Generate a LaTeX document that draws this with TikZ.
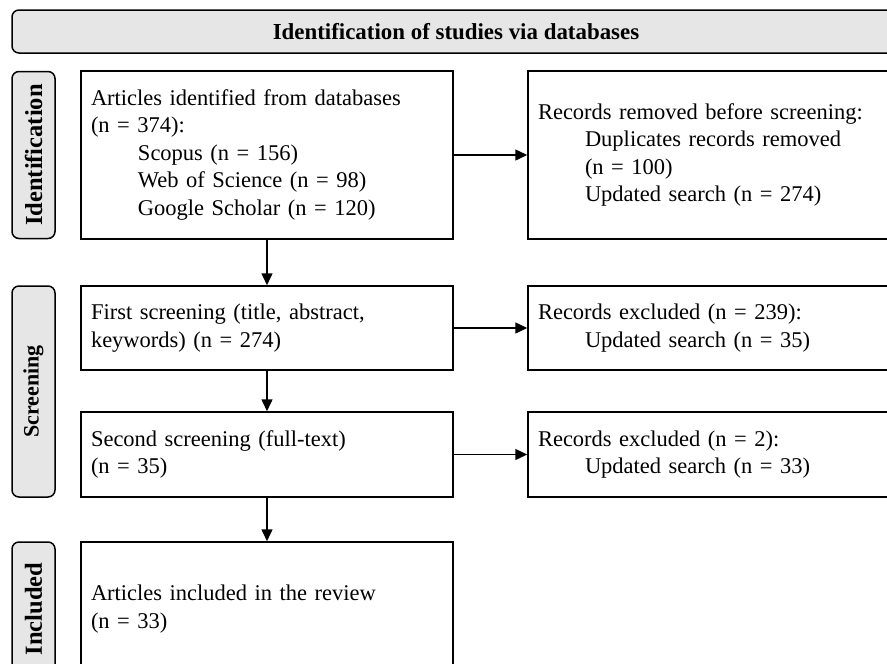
\documentclass[tikz,border=0pt]{standalone}
\usepackage{fontspec}
\setmainfont{Liberation Serif}
\usetikzlibrary{arrows.meta}
\definecolor{lbl}{HTML}{E6E6E6}
\tikzset{
  every node/.style={font=\fontsize{22.5}{27.5}\selectfont},
  box/.style={draw, line width=1.5pt, minimum width=372pt, text width=352pt, inner xsep=10pt, align=left, anchor=center},
  side/.style={draw, line width=1.5pt, fill=lbl, rounded corners=7pt, rotate=90, minimum height=43pt, inner sep=0pt},
  head/.style={draw, line width=1.5pt, fill=lbl, rounded corners=7pt, minimum width=888pt, minimum height=43pt, inner sep=0pt, font=\fontsize{22.9}{27.5}\selectfont\bfseries},
  arr/.style={line width=1.5pt, -{Triangle[length=12pt,width=11pt]}}
}
\newcommand{\tab}{\hspace*{47pt}}
\begin{document}
\begin{tikzpicture}[x=1pt,y=-1pt]
\useasboundingbox (0,0) rectangle (887,664);
\node[head] (hd) at (456,31.5) {Identification of studies via databases};
\node[side, minimum width=167pt, font=\fontsize{24.5}{27.5}\selectfont\bfseries] (s1) at (33.5,155) {Identification};
\node[side, minimum width=211pt, font=\fontsize{22}{27.5}\selectfont\bfseries] (s2) at (33.5,391.5) {Screening};
\node[side, minimum width=134pt, font=\fontsize{24.5}{27.5}\selectfont\bfseries] (s3) at (33.5,609) {Included};
\node[box, minimum height=168pt] (b1) at (267,155) {Articles identified from databases\\(n = 374):\\\tab Scopus (n = 156)\\\tab Web of Science (n = 98)\\\tab Google Scholar (n = 120)};
\node[box, minimum height=84pt] (b2) at (267,328) {First screening (title, abstract,\\keywords) (n = 274)};
\node[box, minimum height=85pt] (b3) at (267,454.5) {Second screening (full-text)\\(n = 35)};
\node[box, minimum height=134pt] (b4) at (267,609) {Articles included in the review\\(n = 33)};
\node[box, minimum height=168pt] (r1) at (714,155) {Records removed before screening:\\\tab Duplicates records removed\\\tab (n = 100)\\\tab Updated search (n = 274)};
\node[box, minimum height=84pt] (r2) at (714,328) {Records excluded (n = 239):\\\tab Updated search (n = 35)};
\node[box, minimum height=85pt] (r3) at (714,454.5) {Records excluded (n = 2):\\\tab Updated search (n = 33)};
\draw[arr] (b1) -- (b2);
\draw[arr] (b2) -- (b3);
\draw[arr] (b3) -- (b4);
\draw[arr] (b1) -- (r1);
\draw[arr] (b2) -- (r2);
\draw[arr] (b3) -- (r3);
\end{tikzpicture}
\end{document}
